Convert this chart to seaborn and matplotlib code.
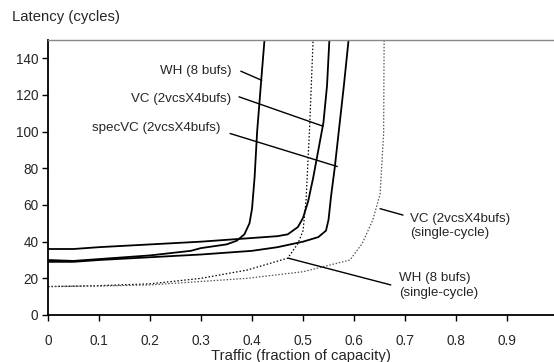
import matplotlib
matplotlib.use("Agg")
import matplotlib.pyplot as plt
import seaborn as sns
import pandas as pd

# Data
wh_x = [0, 0.05, 0.1, 0.2, 0.28, 0.3, 0.35, 0.37, 0.385, 0.395, 0.40, 0.405, 0.41, 0.418, 0.425]
wh_y = [30, 29.5, 30.5, 32.5, 35, 36.5, 38.5, 40.5, 44, 50, 58, 75, 100, 128, 152]

vc_x = [0, 0.05, 0.1, 0.2, 0.3, 0.4, 0.45, 0.47, 0.49, 0.50, 0.51, 0.52, 0.53, 0.54, 0.547, 0.552]
vc_y = [36, 36, 37, 38.5, 40, 42, 43, 44, 48, 53, 62, 75, 90, 105, 125, 152]

spec_x = [0, 0.05, 0.1, 0.2, 0.3, 0.4, 0.45, 0.5, 0.53, 0.545, 0.55, 0.555, 0.562, 0.57, 0.58, 0.59]
spec_y = [29, 29, 30, 31.5, 33, 35, 37, 40, 42.5, 46, 52, 65, 80, 100, 125, 152]

whs_x = [0, 0.1, 0.2, 0.3, 0.39, 0.47, 0.49, 0.50, 0.506, 0.513, 0.52]
whs_y = [15.5, 16, 17, 20, 24.5, 31, 39, 46, 63, 103, 152]

vcs_x = [0, 0.1, 0.2, 0.39, 0.5, 0.592, 0.616, 0.637, 0.651, 0.658, 0.659]
vcs_y = [15.5, 15.8, 16.4, 20, 23.6, 30, 39, 52, 66, 99, 152]

x_ticks = [0, 0.1, 0.2, 0.3, 0.4, 0.5, 0.6, 0.7, 0.8, 0.9]
x_tick_labels = ["0", "0.1", "0.2", "0.3", "0.4", "0.5", "0.6", "0.7", "0.8", "0.9"]
y_ticks = [0, 20, 40, 60, 80, 100, 120, 140]

series = {
    "WH": (wh_x, wh_y),
    "VC": (vc_x, vc_y),
    "specVC": (spec_x, spec_y),
    "WHs": (whs_x, whs_y),
    "VCs": (vcs_x, vcs_y),
}
frames = []
for name, (xs, ys) in series.items():
    frames.append(pd.DataFrame({"x": xs, "y": ys, "s": name}))
df = pd.concat(frames, ignore_index=True)

sns.set_style("white")
plt.rcParams["font.family"] = ["Liberation Sans", "DejaVu Sans"]
plt.rcParams["font.size"] = 10

fig = plt.figure(figsize=(5.54, 3.62), dpi=100)
ax = fig.add_axes([48 / 554, 1 - 315 / 362, (554 - 48) / 554, (315 - 40) / 362])

styles = {
    "WH": dict(color="black", lw=1.3, ls="-"),
    "VC": dict(color="black", lw=1.3, ls="-"),
    "specVC": dict(color="black", lw=1.3, ls="-"),
    "WHs": dict(color="black", lw=0.9, ls=(0, (1.2, 1.6))),
    "VCs": dict(color="#555555", lw=0.9, ls=(0, (1.2, 1.4))),
}
for name in series:
    sub = df[df["s"] == name]
    sns.lineplot(data=sub, x="x", y="y", ax=ax, sort=False, estimator=None,
                 legend=False, **styles[name])

ax.set_xlim(0, 0.992)
ax.set_ylim(0, 150)
ax.set_xticks(x_ticks)
ax.set_xticklabels(x_tick_labels)
ax.set_yticks(y_ticks)
ax.set_xlabel("Traffic (fraction of capacity)", fontsize=10.7, labelpad=0.8)
ax.set_ylabel("")
ax.tick_params(axis="both", length=4, width=1, color="black",
               labelsize=9.8, bottom=True, left=True, direction="out")
ax.tick_params(axis="x", pad=9.5)
ax.tick_params(axis="y", pad=3)
for side in ["left", "bottom"]:
    ax.spines[side].set_color("black")
    ax.spines[side].set_linewidth(1.3)
ax.spines["top"].set_color("#888888")
ax.spines["top"].set_linewidth(1.0)
ax.spines["right"].set_visible(False)

fig.text(11.5 / 554, 1 - 17 / 362, "Latency (cycles)", fontsize=10.7, va="center", ha="left")

# Annotations with leader lines
def label(text, tx, ty, lx0, ly0, lx1, ly1, ha):
    ax.text(tx, ty, text, ha=ha, va="center", fontsize=9.6, linespacing=1.3)
    ax.plot([lx0, lx1], [ly0, ly1], color="black", lw=1.0)

label("WH (8 bufs)", 0.360, 133, 0.378, 133, 0.419, 128, "right")
label("VC (2vcsX4bufs)", 0.360, 118, 0.3746, 119, 0.539, 103, "right")
label("specVC (2vcsX4bufs)", 0.339, 102, 0.357, 99, 0.567, 81, "right")
label("VC (2vcsX4bufs)\n(single-cycle)", 0.71, 48.5, 0.696, 54.5, 0.651, 58, "left")
label("WH (8 bufs)\n(single-cycle)", 0.689, 16, 0.672, 16.4, 0.471, 31, "left")

fig.savefig("out.png", dpi=100)
